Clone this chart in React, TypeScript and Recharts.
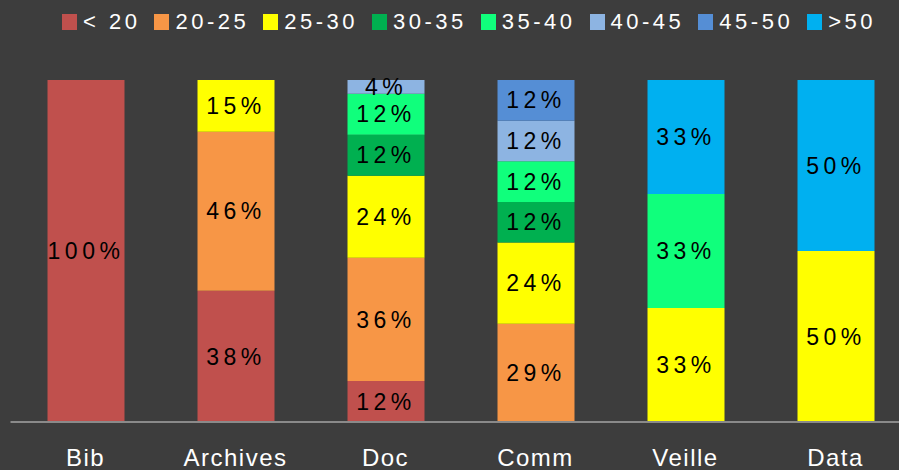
import React from 'react';
import { BarChart, Bar, XAxis, YAxis, LabelList } from 'recharts';

const categories = ['Bib', 'Archives', 'Doc', 'Comm', 'Veille', 'Data'];
const ageLabels = ['< 20', '20-25', '25-30', '30-35', '35-40', '40-45', '45-50', '>50'];
const ageColors = ['#C0504D', '#F79646', '#FFFF00', '#00B050', '#10FF7C', '#8DB4E2', '#558ED5', '#00B0F0'];

const under20 = [100, 38, 12, 0, 0, 0];
const age20to25 = [0, 46, 36, 29, 0, 0];
const age25to30 = [0, 15, 24, 24, 33, 50];
const age30to35 = [0, 0, 12, 12, 0, 0];
const age35to40 = [0, 0, 12, 12, 33, 0];
const age40to45 = [0, 0, 4, 12, 0, 0];
const age45to50 = [0, 0, 0, 12, 0, 0];
const over50 = [0, 0, 0, 0, 33, 50];

const series = [under20, age20to25, age25to30, age30to35, age35to40, age40to45, age45to50, over50];
const keys = ['s0', 's1', 's2', 's3', 's4', 's5', 's6', 's7'];

const data = categories.map((name, i) => {
  const row: Record<string, string | number> = { name };
  series.forEach((s, k) => {
    row[keys[k]] = s[i];
  });
  return row;
});

const FONT = '"Liberation Sans", Arial, sans-serif';

const Tick = ({ x, y, payload }: { x?: number; y?: number; payload?: { value: string } }) => (
  <text
    x={x}
    y={y}
    dy={36}
    textAnchor="middle"
    fill="#ffffff"
    fontSize={24}
    letterSpacing={1.5}
    fontFamily={FONT}
  >
    {payload?.value}
  </text>
);

function Legend() {
  return (
    <div
      style={{
        position: 'absolute',
        left: 62,
        top: 9,
        display: 'flex',
        alignItems: 'center',
        fontFamily: FONT,
        fontSize: 22,
        letterSpacing: 3.5,
        color: '#fff',
        whiteSpace: 'nowrap',
      }}
    >
      {ageLabels.map((l, i) => (
        <div key={l} style={{ display: 'flex', alignItems: 'center', marginRight: 14 }}>
          <span style={{ width: 15, height: 16, background: ageColors[i], marginRight: 6, display: 'inline-block' }} />
          <span>{l}</span>
        </div>
      ))}
    </div>
  );
}

export default function App() {
  return (
    <div
      style={{
        position: 'fixed',
        left: 0,
        top: 0,
        width: 899,
        height: 470,
        overflow: 'hidden',
        background: '#3d3d3d',
      }}
    >
      <Legend />
      <BarChart
        width={921}
        height={470}
        data={data}
        stackOffset="expand"
        barSize={77}
        margin={{ top: 80, right: 10.5, bottom: 0, left: 10.5 }}
      >
        <XAxis
          dataKey="name"
          height={48}
          axisLine={{ stroke: '#8a8a8a', strokeWidth: 2 }}
          tickLine={false}
          tick={<Tick />}
          interval={0}
        />
        <YAxis hide domain={[0, 1]} />
        {keys.map((k, i) => (
          <Bar key={k} dataKey={k} stackId="a" fill={ageColors[i]} isAnimationActive={false}>
            <LabelList
              dataKey={k}
              position="center"
              formatter={(v: number) => (v ? `${v}%` : '')}
              fill="#000"
              fontSize={23}
              letterSpacing={4.5}
              fontFamily={FONT}
            />
          </Bar>
        ))}
      </BarChart>
    </div>
  );
}
